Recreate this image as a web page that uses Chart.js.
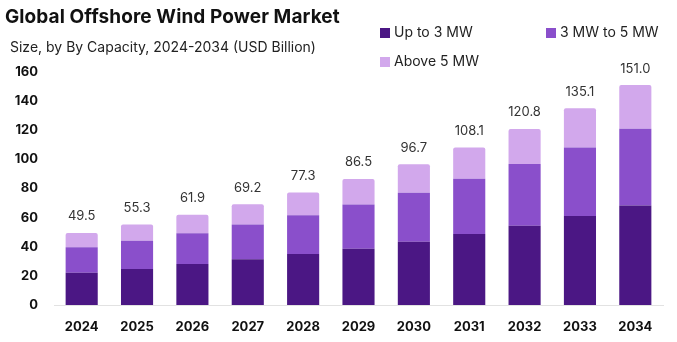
<!DOCTYPE html>
<html><head><meta charset="utf-8">
<script src="https://cdn.jsdelivr.net/npm/chart.js@4"></script>
<style>
html,body{margin:0;padding:0;background:#fff;}
#wrap{position:relative;width:677px;height:342px;overflow:hidden;font-family:Inter,"Open Sans",sans-serif;}
#title{position:absolute;left:5px;top:5px;font-size:19px;font-weight:700;color:#111;white-space:nowrap;letter-spacing:0.1px;}
#sub{position:absolute;left:10px;top:38px;font-size:14px;color:#222;white-space:nowrap;}
.lg{position:absolute;font-size:14px;color:#222;white-space:nowrap;line-height:18px;}
.lg span{display:inline-block;width:10px;height:10px;margin-right:4px;vertical-align:-1px;}
canvas{position:absolute;left:0;top:0;}
</style></head>
<body><div id="wrap">
<canvas id="c" width="677" height="342"></canvas>
<div id="title">Global Offshore Wind Power Market</div>
<div id="sub">Size, by By Capacity, 2024-2034 (USD Billion)</div>
<div id="legend"></div>
</div>
<script>
const years = ["2024","2025","2026","2027","2028","2029","2030","2031","2032","2033","2034"];
const seriesNames = ["Up to 3 MW","3 MW to 5 MW","Above 5 MW"];
const upTo3MW   = [22.2, 24.8, 28.2, 31.4, 35.1, 38.7, 43.5, 48.8, 54.5, 61.2, 68.3];
const mw3to5    = [17.5, 19.4, 21.1, 23.8, 26.6, 30.3, 33.5, 37.9, 42.3, 47.0, 52.7];
const above5MW  = [ 9.8, 11.1, 12.6, 14.0, 15.6, 17.5, 19.7, 21.4, 24.0, 26.9, 30.0];
const totals    = ["49.5","55.3","61.9","69.2","77.3","86.5","96.7","108.1","120.8","135.1","151.0"];
const yTicks    = [0,20,40,60,80,100,120,140,160];
const colors = ["#4b1784","#8a4fcb","#d2a8ec"];

const legendPos = [[380,23],[546,23],[380,52]];
const lg = document.getElementById('legend');
seriesNames.forEach((n,i)=>{
  const d=document.createElement('div');d.className='lg';
  d.style.left=legendPos[i][0]+'px';d.style.top=legendPos[i][1]+'px';
  d.innerHTML='<span style="background:'+colors[i]+'"></span>'+n;
  lg.appendChild(d);
});

const totalLabels = {
  id:'totalLabels',
  afterDatasetsDraw(chart){
    const ctx=chart.ctx;
    const meta=chart.getDatasetMeta(chart.data.datasets.length-1);
    ctx.save();
    ctx.font='13px Inter, "Open Sans", sans-serif';
    ctx.fillStyle='#333';
    ctx.textAlign='center';
    ctx.textBaseline='bottom';
    meta.data.forEach((el,i)=>{
      ctx.fillText(totals[i], el.x, el.y-10);
    });
    ctx.restore();
  }
};

new Chart(document.getElementById('c'),{
  type:'bar',
  data:{
    labels:years,
    datasets:[
      {label:seriesNames[0],data:upTo3MW,backgroundColor:colors[0]},
      {label:seriesNames[1],data:mw3to5,backgroundColor:colors[1]},
      {label:seriesNames[2],data:above5MW,backgroundColor:colors[2]}
    ]
  },
  options:{
    responsive:false,
    animation:false,
    devicePixelRatio:1,
    layout:{padding:{top:72,right:14,bottom:0,left:0}},
    datasets:{bar:{categoryPercentage:1,barPercentage:0.58,borderRadius:2}},
    plugins:{legend:{display:false},tooltip:{enabled:false},title:{display:false}},
    scales:{
      x:{
        stacked:true,
        grid:{display:false,drawTicks:false},
        border:{display:true,color:'#e2e2e2',width:1},
        ticks:{color:'#111',font:{family:'Inter',size:13,weight:'bold'},padding:14},
        afterFit(s){s.height=37;}
      },
      y:{
        stacked:true,
        min:0,max:160,
        afterBuildTicks(s){s.ticks=yTicks.map(v=>({value:v}));},
        grid:{display:false,drawTicks:false},
        border:{display:false},
        ticks:{color:'#111',font:{family:'Inter',size:13,weight:'bold'},padding:16},
        afterFit(s){s.width=54;}
      }
    }
  },
  plugins:[totalLabels]
});
</script>
</body></html>
